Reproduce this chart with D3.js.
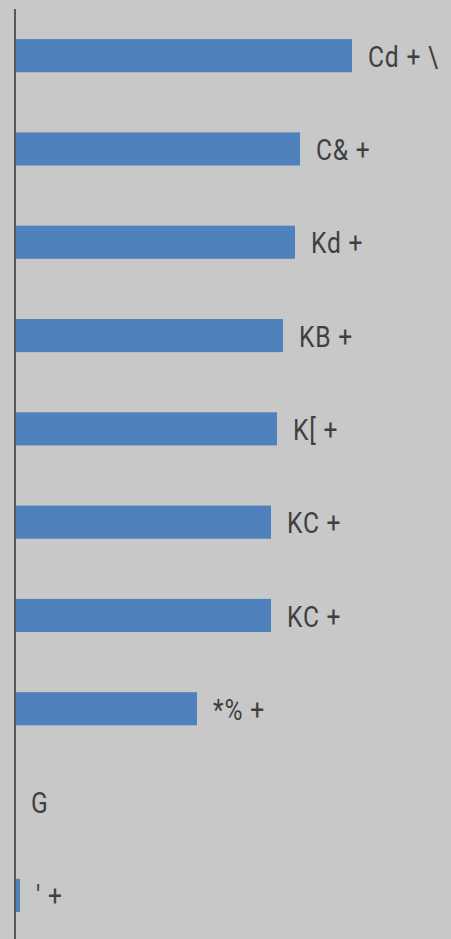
<!DOCTYPE html>
<html>
<head>
<meta charset="utf-8">
<script src="https://cdn.jsdelivr.net/npm/d3@7"></script>
<style>
  html, body { margin: 0; padding: 0; background: #c8c8c8; }
  .bar-label { font-family: Roboto, sans-serif; font-size: 30px; fill: #404040; letter-spacing: 1px; }
</style>
</head>
<body>
<div id="container"></div>
<script>
  // data
  var categories = ["c0", "c1", "c2", "c3", "c4", "c5", "c6", "c7", "c8", "c9"];
  var values = [337, 285, 280, 268, 262, 256, 256, 182, 0, 5];
  var labels = ["Cd + \\", "C& +", "Kd +", "KB +", "K[ +", "KC +", "KC +", "*% +", "G", "' +"];

  var width = 451, height = 939;
  var margin = {top: 9, left: 15};

  var svg = d3.select("#container").append("svg")
    .attr("width", width)
    .attr("height", height)
    .style("display", "block")
    .style("background", "#c8c8c8");

  var y = d3.scaleBand()
    .domain(categories)
    .range([margin.top, height + 3])
    .paddingInner(0.645)
    .paddingOuter(0.3225);

  var x = d3.scaleLinear()
    .domain([0, 436])
    .range([margin.left, width]);

  svg.selectAll("rect.bar")
    .data(values)
    .enter().append("rect")
      .attr("class", "bar")
      .attr("x", x(0))
      .attr("y", function(d, i) { return y(categories[i]); })
      .attr("width", function(d) { return x(d) - x(0); })
      .attr("height", y.bandwidth())
      .attr("fill", "#4f81bd");

  svg.selectAll("text.bar-label")
    .data(values)
    .enter().append("text")
      .attr("class", "bar-label")
      .attr("transform", function(d, i) {
        var ty = y(categories[i]) + y.bandwidth() / 2;
        return "translate(" + (x(d) + 16) + "," + ty + ") scale(0.82,1)";
      })
      .attr("dy", "0.37em")
      .text(function(d, i) { return labels[i]; });

  // vertical axis line
  svg.append("line")
    .attr("x1", x(0)).attr("x2", x(0))
    .attr("y1", margin.top).attr("y2", height)
    .style("stroke", "#595959")
    .style("stroke-width", 2);
</script>
</body>
</html>
